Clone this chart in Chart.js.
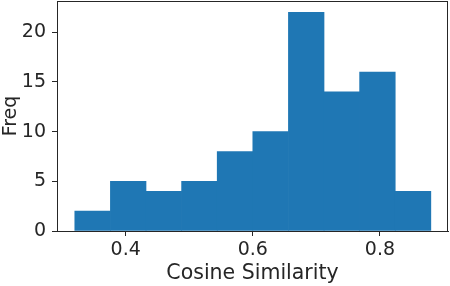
<!DOCTYPE html>
<html>
<head>
<meta charset="utf-8">
<script src="https://cdn.jsdelivr.net/npm/chart.js@4/dist/chart.umd.min.js"></script>
<style>
  html, body { margin: 0; padding: 0; background: #fff; }
  #wrap { width: 450px; height: 286px; }
</style>
</head>
<body>
<div id="wrap"><canvas id="hist"></canvas></div>
<script>
// histogram bins (cosine similarity) and counts
const binEdges = [0.32, 0.376, 0.432, 0.488, 0.544, 0.6, 0.656, 0.712, 0.768, 0.824, 0.88];
const freq = [2, 5, 4, 5, 8, 10, 22, 14, 16, 4];
const xTicks = [0.4, 0.6, 0.8];
const yTicks = [0, 5, 10, 15, 20];

const points = freq.map(function (f, i) {
    return { x: (binEdges[i] + binEdges[i + 1]) / 2, y: f };
});

const ink = '#262626';
const barColor = '#1f77b4';
const tickFont = { family: 'DejaVu Sans', size: 19 };

// box around the plot area, like matplotlib spines
const frame = {
    id: 'frame',
    afterDraw: function (chart) {
        const a = chart.chartArea;
        const ctx = chart.ctx;
        ctx.save();
        ctx.strokeStyle = ink;
        ctx.lineWidth = 1;
        ctx.strokeRect(a.left + 0.5, a.top + 0.5, a.right - a.left - 1, a.bottom - a.top);
        ctx.restore();
    }
};

new Chart(document.getElementById('hist').getContext('2d'), {
    type: 'bar',
    data: {
        datasets: [{
            data: points,
            backgroundColor: barColor,
            borderColor: barColor,
            borderWidth: 0,
            barPercentage: 1,
            categoryPercentage: 1
        }]
    },
    options: {
        responsive: true,
        maintainAspectRatio: false,
        animation: false,
        layout: { padding: { top: 1, right: 2, left: 0, bottom: 0 } },
        plugins: {
            legend: { display: false },
            tooltip: { enabled: false }
        },
        scales: {
            x: {
                type: 'linear',
                offset: false,
                min: 0.292,
                max: 0.907,
                afterBuildTicks: function (scale) {
                    scale.ticks = xTicks.map(function (v) { return { value: v }; });
                },
                afterFit: function (scale) {
                    scale.height = 55;
                    scale.paddingLeft = 0;
                    scale.paddingRight = 0;
                },
                ticks: {
                    color: ink,
                    font: tickFont,
                    padding: 3,
                    maxRotation: 0,
                    callback: function (v) { return v.toFixed(1); }
                },
                grid: { display: true, offset: false, drawOnChartArea: false, drawTicks: true, tickLength: 5, color: ink },
                border: { display: true, color: ink },
                title: {
                    display: true,
                    text: 'Cosine Similarity',
                    color: ink,
                    font: { family: 'DejaVu Sans', size: 20.5 },
                    padding: { top: 1, bottom: 0 }
                }
            },
            y: {
                min: 0,
                max: 23.15,
                afterBuildTicks: function (scale) {
                    scale.ticks = yTicks.map(function (v) { return { value: v }; });
                },
                afterFit: function (scale) {
                    scale.width = 57;
                    scale.paddingTop = 0;
                    scale.paddingBottom = 0;
                },
                ticks: { color: ink, font: tickFont, padding: 6 },
                grid: { display: true, drawOnChartArea: false, drawTicks: true, tickLength: 5, color: ink },
                border: { display: true, color: ink },
                title: {
                    display: true,
                    text: 'Freq',
                    color: ink,
                    font: { family: 'DejaVu Sans', size: 19 },
                    padding: { top: 0, bottom: 0 }
                }
            }
        }
    },
    plugins: [frame]
});
</script>
</body>
</html>
